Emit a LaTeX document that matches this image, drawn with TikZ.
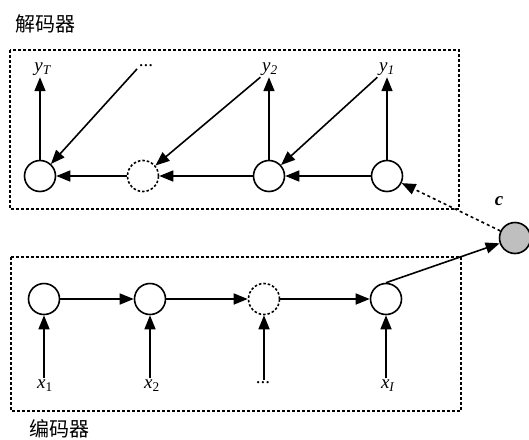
\documentclass[tikz,border=0pt]{standalone}
\usepackage{fontspec}
\setmainfont{Liberation Serif}
\newfontfamily\cjk{Noto Sans CJK SC}
\usetikzlibrary{arrows.meta}

\begin{document}
\begin{tikzpicture}[x=1pt, y=-1pt, >={Triangle[length=14pt,width=11pt]}]
\tikzstyle{every path}=[line width=1.6pt];
\tikzstyle{cell}=[draw,shape=circle,minimum size=31pt,inner sep=0pt];
\tikzstyle{gap}=[cell,dash pattern=on 2.5pt off 2pt];
\tikzstyle{ctx}=[cell,fill=black!25];
\tikzstyle{var}=[inner sep=1pt,font=\fontsize{19}{21}\selectfont];
\tikzstyle{title}=[font=\cjk\fontsize{20}{22}\selectfont];
\tikzstyle{frame}=[line width=1.3pt,dash pattern=on 3pt off 2pt];
\useasboundingbox (0,0) rectangle (529,439);
% decoder
\draw[frame] (10,50) rectangle (459,209);
\path (45,24) node[title] (dectitle) {解码器};
\path (40,176) node[cell] (d1) {};
\path (143,176) node[gap] (d2) {};
\path (269,176) node[cell] (d3) {};
\path (387,176) node[cell] (d4) {};
\path (43,69) node[var] (yT) {\textit{y}\textsubscript{\textit{T}}};
\path (146,66) node[var] (ydots) {...};
\path (270,69) node[var] (y2) {\textit{y}\textsubscript{\textit{2}}};
\path (387,69) node[var] (y1) {\textit{y}\textsubscript{\textit{1}}};
\path[->] (d4) edge (d3);
\path[->] (d3) edge (d2);
\path[->] (d2) edge (d1);
\path[->] (d1) edge (d1 |- yT.south);
\path[->] (d3) edge (d3 |- y2.south);
\path[->] (d4) edge (d4 |- y1.south);
\path[->] (ydots.south west) edge (d1);
\path[->] (y2.south west) edge (d2);
\path[->] (y1.south west) edge (d3);
% encoder
\draw[frame] (11,257) rectangle (461,411);
\path (59,429) node[title] (enctitle) {编码器};
\path (44,299) node[cell] (e1) {};
\path (150,299) node[cell] (e2) {};
\path (264,299) node[gap] (e3) {};
\path (386,299) node[cell] (e4) {};
\path (45,386) node[var] (x1) {\textit{x}\textsubscript{1}};
\path (152,386) node[var] (x2) {\textit{x}\textsubscript{2}};
\path (263,383) node[var] (xdots) {...};
\path (388,386) node[var] (xI) {\textit{x}\textsubscript{\textit{I}}};
\path[->] (e1) edge (e2);
\path[->] (e2) edge (e3);
\path[->] (e3) edge (e4);
\path[->] (e1 |- x1.north) edge (e1);
\path[->] (e2 |- x2.north) edge (e2);
\path[->] (e3 |- xdots.north) edge (e3);
\path[->] (e4 |- xI.north) edge (e4);
% context
\path (515,238) node[ctx] (c) {};
\path (499,201) node[var] (clabel) {\textbf{\textit{c}}};
\path[->] (e4.north) edge (c);
\path[->,dashed] (c) edge (d4);
\end{tikzpicture}
\end{document}
